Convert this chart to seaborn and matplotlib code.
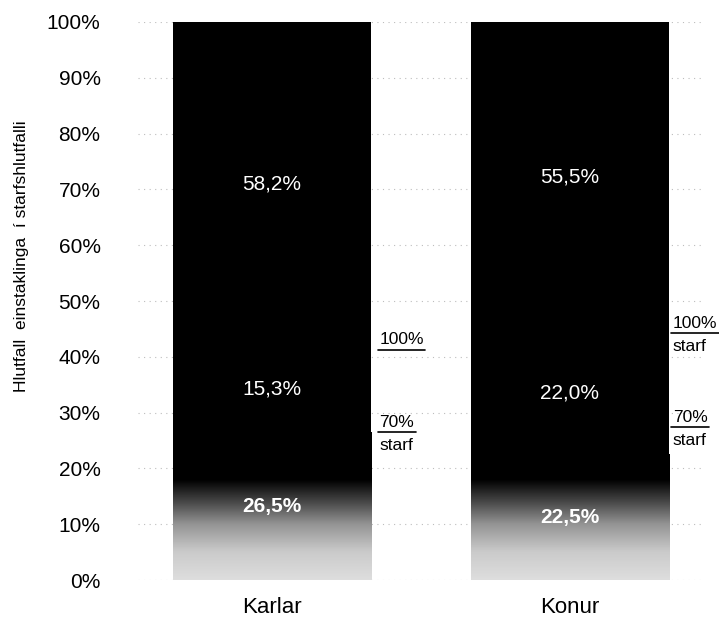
import numpy as np
import pandas as pd
import matplotlib
matplotlib.use("Agg")
import matplotlib.pyplot as plt
from matplotlib.colors import LinearSegmentedColormap
import seaborn as sns

# ---- data ----
categories = ["Karlar", "Konur"]
share_low = [26.5, 22.5]     # bottom segment (gradient)
share_70 = [15.3, 22.0]      # 70% starf
share_100 = [58.2, 55.5]     # 100% starf
ytick_values = [0, 10, 20, 30, 40, 50, 60, 70, 80, 90, 100]
ytick_labels = [f"{v}%" for v in ytick_values]
ylabel = "Hlutfall  einstaklinga  í starfshlutfalli"

sns.set_theme(style="white")
plt.rcParams["font.family"] = ["Liberation Sans", "DejaVu Sans"]
plt.rcParams["text.color"] = "black"
plt.rcParams["axes.labelcolor"] = "black"
plt.rcParams["xtick.color"] = "black"
plt.rcParams["ytick.color"] = "black"

df = pd.DataFrame({"cat": categories, "low": share_low, "mid": share_70, "top": share_100})
df["cum_mid"] = df["low"] + df["mid"]
df["cum_top"] = df["cum_mid"] + df["top"]

fig = plt.figure(figsize=(7.19, 6.28), dpi=100)
ax = fig.add_axes([0.192, 0.0764, 0.787, 0.8886])

w = 0.665
sns.barplot(data=df, x="cat", y="cum_top", color="black", width=w, ax=ax, saturation=1,
            linewidth=0, edgecolor="black", zorder=2)
sns.barplot(data=df, x="cat", y="cum_mid", color="black", width=w, ax=ax, saturation=1,
            linewidth=0, edgecolor="black", zorder=3)
n_before = len(ax.patches)
sns.barplot(data=df, x="cat", y="low", color="#888888", width=w, ax=ax, saturation=1,
            linewidth=0, zorder=4)
low_patches = ax.patches[n_before:]

# gradient fill for the lowest segment
cmap = LinearSegmentedColormap.from_list("g", ["#000000", "#eeeeee"])
for p in low_patches:
    x0 = p.get_x(); x1 = x0 + p.get_width(); h = p.get_height()
    yy = np.linspace(h, 0, 200)
    vals = np.interp(yy, [0, 5, 10, 14, 18], [0.93, 0.85, 0.62, 0.3, 0.0])
    img = ax.imshow(vals[:, None], extent=(x0, x1, 0, h), cmap=cmap, vmin=0, vmax=1,
                    aspect="auto", zorder=5, interpolation="bilinear")
    img.set_clip_path(p)

ax.set_xlim(-0.45, 1.45)
ax.set_ylim(0, 100)
ax.set_yticks(ytick_values)
ax.set_yticklabels(ytick_labels)
ax.tick_params(axis="y", length=0, pad=27, labelsize=15)
ax.tick_params(axis="x", length=0, pad=12, labelsize=16)
ax.set_xlabel("")
ax.set_ylabel(ylabel, fontsize=12.5)
ax.yaxis.set_label_coords(-0.193, 0.58)
ax.yaxis.grid(True, color="#bdbdbd", linestyle=(0, (1, 4)), linewidth=0.8, zorder=0)
ax.set_axisbelow(True)
for s in ax.spines.values():
    s.set_visible(False)

# segment labels
for i, r in df.iterrows():
    ax.text(i, r["low"] / 2, f"{r['low']:.1f}%".replace(".", ","), ha="center", va="center",
            color="white", fontsize=15, fontweight="bold", zorder=6)
    ax.text(i, r["low"] + r["mid"] / 2, f"{r['mid']:.1f}%".replace(".", ","), ha="center", va="center",
            color="white", fontsize=15, zorder=6)
    ax.text(i, r["cum_mid"] + r["top"] / 2, f"{r['top']:.1f}%".replace(".", ","), ha="center", va="center",
            color="white", fontsize=15, zorder=6)

# side annotations (underlined labels)
fig.canvas.draw()
renderer = fig.canvas.get_renderer()
inv = ax.transData.inverted()

def side(x, y, txt, sub=None):
    t = ax.text(x, y, txt, ha="left", va="baseline", fontsize=12.5, zorder=6)
    bb = t.get_window_extent(renderer)
    (xa, _), (xb, _) = inv.transform([(bb.x0, bb.y0), (bb.x1, bb.y0)])
    ax.plot([xa - 0.005, xb + 0.005], [y - 1.0, y - 1.0], color="black", lw=1.2, zorder=6, clip_on=False)
    if sub:
        ax.text(x, y - 2.0, sub, ha="left", va="top", fontsize=12.5, zorder=6)

side(0.36, 42.3, "100%")
side(0.36, 27.5, "70%", "starf")
side(1.345, 45.2, "100%", "starf")
side(1.345, 28.4, "70%", "starf")

fig.savefig("out.png", dpi=100)
